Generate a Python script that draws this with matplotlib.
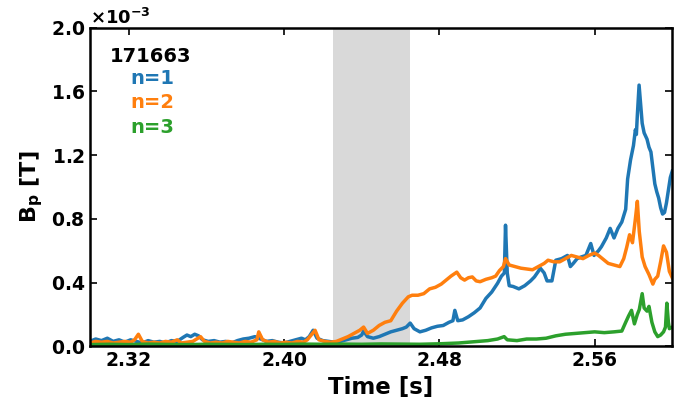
import numpy as np
import matplotlib
matplotlib.use("Agg")
import matplotlib.pyplot as plt
from matplotlib.ticker import ScalarFormatter

# values, Bp in units of 1e-3 T
t_n1 = [2.300, 2.303, 2.306, 2.309, 2.312, 2.315, 2.318, 2.321, 2.324, 2.327,
        2.330, 2.333, 2.336, 2.339, 2.342, 2.345, 2.348, 2.350, 2.352, 2.354,
        2.356, 2.358, 2.361, 2.364, 2.367, 2.370, 2.373, 2.376, 2.379, 2.382,
        2.385, 2.388, 2.391, 2.394, 2.397, 2.400, 2.403, 2.406, 2.409, 2.411,
        2.413, 2.415, 2.417, 2.420, 2.423, 2.426, 2.429, 2.432, 2.435, 2.438,
        2.440, 2.441, 2.443, 2.446, 2.449, 2.452, 2.455, 2.458, 2.461, 2.463,
        2.465, 2.467, 2.470, 2.473, 2.476, 2.479, 2.482, 2.485, 2.487, 2.488,
        2.4895, 2.492, 2.495, 2.498, 2.501, 2.504, 2.507, 2.510, 2.512, 2.5135,
        2.5141, 2.5150, 2.516, 2.518, 2.521, 2.524, 2.527, 2.529, 2.531, 2.532,
        2.534, 2.5355, 2.538, 2.540, 2.543, 2.546, 2.5475, 2.549, 2.551, 2.553,
        2.5555, 2.558, 2.5597, 2.562, 2.5635, 2.566, 2.568, 2.570, 2.572, 2.574,
        2.576, 2.577, 2.5785, 2.580, 2.581, 2.5815, 2.582, 2.5829, 2.5838, 2.5845,
        2.5855, 2.587, 2.588, 2.589, 2.590, 2.591, 2.592, 2.593, 2.594, 2.595,
        2.596, 2.597, 2.598, 2.599, 2.600]
b_n1 = [0.030, 0.045, 0.035, 0.050, 0.030, 0.040, 0.025, 0.040, 0.030, 0.020,
        0.035, 0.025, 0.030, 0.020, 0.035, 0.030, 0.055, 0.070, 0.060, 0.075,
        0.065, 0.040, 0.030, 0.035, 0.025, 0.030, 0.020, 0.035, 0.045, 0.050,
        0.060, 0.045, 0.030, 0.035, 0.025, 0.020, 0.030, 0.040, 0.050, 0.040,
        0.060, 0.100, 0.050, 0.035, 0.030, 0.025, 0.030, 0.040, 0.050, 0.055,
        0.070, 0.095, 0.060, 0.050, 0.060, 0.075, 0.090, 0.100, 0.110, 0.120,
        0.145, 0.110, 0.090, 0.100, 0.115, 0.125, 0.130, 0.150, 0.160, 0.225,
        0.160, 0.165, 0.185, 0.210, 0.240, 0.300, 0.340, 0.395, 0.440, 0.460,
        0.760, 0.460, 0.380, 0.375, 0.360, 0.380, 0.410, 0.435, 0.470, 0.490,
        0.460, 0.410, 0.410, 0.540, 0.550, 0.570, 0.500, 0.520, 0.550, 0.560,
        0.570, 0.645, 0.570, 0.600, 0.625, 0.680, 0.740, 0.680, 0.740, 0.780,
        0.860, 1.050, 1.170, 1.260, 1.360, 1.330, 1.450, 1.640, 1.500, 1.400,
        1.340, 1.300, 1.250, 1.220, 1.120, 1.020, 0.970, 0.930, 0.870, 0.830,
        0.840, 0.900, 0.980, 1.060, 1.100]

t_n2 = [2.300, 2.303, 2.306, 2.309, 2.312, 2.315, 2.318, 2.321, 2.323, 2.325,
        2.327, 2.330, 2.333, 2.336, 2.339, 2.342, 2.345, 2.347, 2.350, 2.353,
        2.355, 2.357, 2.359, 2.362, 2.365, 2.368, 2.371, 2.374, 2.377, 2.380,
        2.383, 2.386, 2.387, 2.389, 2.392, 2.395, 2.398, 2.401, 2.404, 2.407,
        2.410, 2.412, 2.414, 2.416, 2.418, 2.421, 2.424, 2.427, 2.430, 2.433,
        2.436, 2.439, 2.441, 2.443, 2.446, 2.449, 2.452, 2.455, 2.458, 2.461,
        2.464, 2.466, 2.469, 2.472, 2.475, 2.478, 2.481, 2.484, 2.486, 2.489,
        2.491, 2.493, 2.495, 2.497, 2.499, 2.501, 2.504, 2.507, 2.509, 2.511,
        2.513, 2.5141, 2.516, 2.519, 2.522, 2.525, 2.528, 2.531, 2.534, 2.536,
        2.539, 2.542, 2.545, 2.548, 2.551, 2.554, 2.557, 2.560, 2.562, 2.564,
        2.567, 2.570, 2.573, 2.575, 2.5765, 2.578, 2.5795, 2.581, 2.582, 2.583,
        2.5845, 2.586, 2.588, 2.590, 2.591, 2.5925, 2.594, 2.5955, 2.597, 2.5985,
        2.600]
b_n2 = [0.020, 0.030, 0.025, 0.030, 0.020, 0.025, 0.030, 0.025, 0.040, 0.075,
        0.030, 0.020, 0.025, 0.020, 0.030, 0.025, 0.040, 0.020, 0.025, 0.030,
        0.045, 0.060, 0.030, 0.020, 0.025, 0.020, 0.030, 0.025, 0.020, 0.030,
        0.025, 0.040, 0.090, 0.040, 0.025, 0.030, 0.020, 0.025, 0.020, 0.030,
        0.025, 0.040, 0.070, 0.100, 0.040, 0.030, 0.025, 0.030, 0.045, 0.060,
        0.080, 0.100, 0.120, 0.080, 0.100, 0.130, 0.150, 0.160, 0.220, 0.270,
        0.310, 0.320, 0.320, 0.330, 0.360, 0.370, 0.390, 0.420, 0.440, 0.465,
        0.430, 0.415, 0.430, 0.435, 0.410, 0.405, 0.420, 0.430, 0.440, 0.475,
        0.500, 0.550, 0.510, 0.500, 0.490, 0.485, 0.480, 0.500, 0.520, 0.540,
        0.530, 0.530, 0.550, 0.570, 0.560, 0.550, 0.570, 0.585, 0.570, 0.550,
        0.520, 0.510, 0.500, 0.550, 0.620, 0.700, 0.650, 0.800, 0.910, 0.720,
        0.560, 0.500, 0.450, 0.390, 0.420, 0.440, 0.530, 0.630, 0.590, 0.470,
        0.430]

t_n3 = [2.300, 2.310, 2.320, 2.330, 2.340, 2.350, 2.360, 2.370, 2.380, 2.390,
        2.400, 2.410, 2.420, 2.430, 2.440, 2.450, 2.460, 2.470, 2.480, 2.490,
        2.495, 2.500, 2.505, 2.510, 2.5134, 2.515, 2.520, 2.525, 2.530, 2.535,
        2.540, 2.545, 2.550, 2.555, 2.560, 2.565, 2.570, 2.574, 2.576, 2.5775,
        2.579, 2.5805, 2.582, 2.583, 2.5845, 2.5855, 2.587, 2.588, 2.5895, 2.591,
        2.5925, 2.594, 2.5955, 2.5965, 2.5972, 2.598, 2.5985, 2.600]
b_n3 = [0.010, 0.012, 0.010, 0.013, 0.011, 0.010, 0.012, 0.011, 0.010, 0.012,
        0.011, 0.013, 0.012, 0.013, 0.012, 0.014, 0.013, 0.012, 0.015, 0.020,
        0.025, 0.030, 0.035, 0.045, 0.060, 0.040, 0.035, 0.045, 0.045, 0.050,
        0.065, 0.075, 0.080, 0.085, 0.090, 0.085, 0.090, 0.095, 0.150, 0.190,
        0.225, 0.140, 0.200, 0.230, 0.330, 0.240, 0.220, 0.250, 0.150, 0.090,
        0.060, 0.070, 0.090, 0.120, 0.270, 0.150, 0.110, 0.120]

shot = "171663"
mode_labels = ["n=1", "n=2", "n=3"]
colors = ["#1f77b4", "#ff7f0e", "#2ca02c"]
window = (2.425, 2.465)

plt.rcParams['font.family'] = ['DejaVu Sans']
plt.rcParams['font.weight'] = 'bold'

fig = plt.figure(figsize=(6.86, 4.03), dpi=100)
ax = fig.add_axes([0.131, 0.141, 0.849, 0.790])

ax.axvspan(window[0], window[1], color='0.85', lw=0, zorder=0)

series = [(t_n1, b_n1), (t_n2, b_n2), (t_n3, b_n3)]
for (t, b), c in zip(series, colors):
    ax.plot(t, np.array(b) * 1e-3, color=c, lw=2.5)

ax.set_xlim(2.30, 2.60)
ax.set_ylim(0, 2.0e-3)
ax.set_xticks([2.32, 2.40, 2.48, 2.56])
ax.set_yticks(np.array([0.0, 0.4, 0.8, 1.2, 1.6, 2.0]) * 1e-3)
fmt = ScalarFormatter(useMathText=True)
fmt.set_powerlimits((-2, 2))
ax.yaxis.set_major_formatter(fmt)
ax.yaxis.get_offset_text().set_fontsize(13)
ax.yaxis.get_offset_text().set_fontweight('bold')

ax.tick_params(direction='in', top=True, right=True, labelsize=13.5, width=1.2, length=5)
for lab in ax.get_xticklabels() + ax.get_yticklabels():
    lab.set_fontweight('bold')
for sp in ax.spines.values():
    sp.set_linewidth(1.8)

ax.set_xlabel("Time [s]", fontsize=16.5, fontweight='bold')
ax.set_ylabel(r"$\mathbf{B_p}$ [T]", fontsize=16, fontweight='bold')

ax.text(0.034, 0.909, shot, transform=ax.transAxes, fontsize=14,
        fontweight='bold', va='center', ha='left', color='black')
for i, (lab, c) in enumerate(zip(mode_labels, colors)):
    ax.text(0.069, 0.84 - i * 0.076, lab, transform=ax.transAxes, fontsize=14,
            fontweight='bold', va='center', ha='left', color=c)

fig.savefig("out.png", dpi=100)
